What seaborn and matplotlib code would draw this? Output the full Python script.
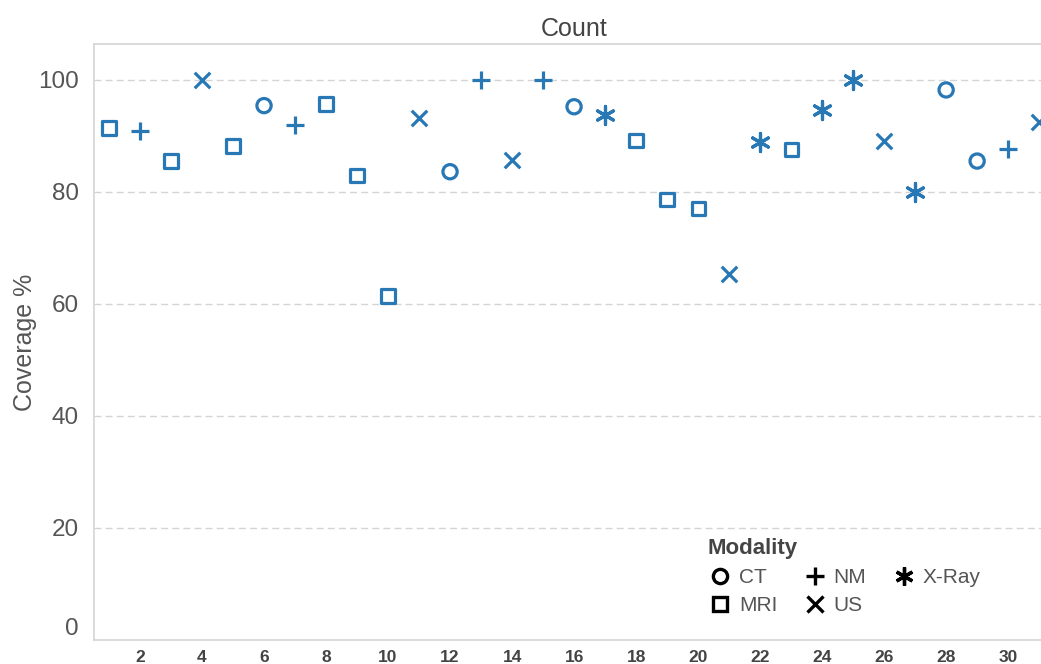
import numpy as np
import pandas as pd
import seaborn as sns
import matplotlib
matplotlib.use("Agg")
from matplotlib import pyplot as plt
from matplotlib.lines import Line2D
from matplotlib.markers import MarkerStyle

# data
counts = list(range(1, 32))
modality = ["MRI", "NM", "MRI", "US", "MRI", "CT", "NM", "MRI", "MRI", "MRI",
            "US", "CT", "NM", "US", "NM", "CT", "X-Ray", "MRI", "MRI", "MRI",
            "US", "X-Ray", "MRI", "X-Ray", "X-Ray", "US", "X-Ray", "CT", "CT", "NM",
            "US"]
coverage = [91.4, 90.9, 85.5, 100, 88.2, 95.4, 92.0, 95.7, 82.9, 61.4,
            93.2, 83.6, 100, 85.7, 100, 95.2, 93.8, 89.1, 78.6, 77.0,
            65.4, 88.9, 87.5, 94.6, 100, 89.1, 80.0, 98.2, 85.5, 87.7,
            92.5]
modalities = ["CT", "MRI", "NM", "US", "X-Ray"]
y_ticks = [0, 20, 40, 60, 80, 100]
x_ticks = list(range(2, 31, 2))

df = pd.DataFrame({"Count": counts, "Modality": modality, "Coverage": coverage})

blue = "#2878b5"
grid_c = "#d4d4d4"
text_c = "#555555"
markers = {
    "CT": (MarkerStyle("o", fillstyle="none"), 105),
    "MRI": (MarkerStyle("s", fillstyle="none"), 90),
    "NM": (MarkerStyle("+"), 170),
    "US": (MarkerStyle("x"), 125),
    "X-Ray": (MarkerStyle((6, 2, 0)), 170),
}

sns.set_style("white")
plt.rcParams["font.family"] = ["Liberation Sans", "DejaVu Sans"]

fig = plt.figure(figsize=(10.41, 6.64), dpi=100)
ax = fig.add_axes([94 / 1041, 1 - 640 / 664, 1 - 94 / 1041, (640 - 44) / 664])

for m in modalities:
    sub = df[df["Modality"] == m]
    mk, s = markers[m]
    sns.scatterplot(data=sub, x="Count", y="Coverage", marker=mk, s=s,
                    color=blue, edgecolor=blue, linewidth=2.3, ax=ax, legend=False,
                    zorder=3)

ax.set_xlim(0.516, 31.06)
ax.set_ylim(0, 106.4)
ax.set_yticks(y_ticks)
ax.set_xticks(x_ticks)
for y in y_ticks[1:]:
    ax.axhline(y, color=grid_c, lw=1, ls=(0, (5, 3)), zorder=1)

ax.set_xlabel("")
ax.set_ylabel("Coverage %", fontsize=18, color=text_c, labelpad=1)
ax.set_title("Count", fontsize=18, color="#444444", pad=6)
ax.title.set_position((0.507, 1))

for sp in ["left", "bottom", "top"]:
    ax.spines[sp].set_color(grid_c)
    ax.spines[sp].set_linewidth(1.2)
ax.spines["right"].set_visible(False)

ax.tick_params(axis="y", length=7, color=grid_c, labelsize=17.5, labelcolor=text_c, pad=4)
ax.tick_params(axis="x", length=3, color=grid_c, labelsize=12.5, labelcolor="#444444", pad=4)
for lab in ax.get_xticklabels():
    lab.set_fontweight("bold")
ax.get_yticklabels()[0].set_verticalalignment("bottom")

handles = []
for m in modalities:
    mk, s = markers[m]
    handles.append(Line2D([], [], linestyle="", marker=mk, color="black",
                          markersize=np.sqrt(s) * 1.0, markeredgewidth=2.4))
leg = ax.legend(handles, modalities, title="Modality", ncol=3, frameon=False,
                loc="upper left", bbox_to_anchor=(693 / 1041, 1 - 523 / 664),
                bbox_transform=fig.transFigure, fontsize=15,
                title_fontproperties={"weight": "bold", "size": 16},
                alignment="left", handletextpad=0.3, columnspacing=1.2,
                labelspacing=0.45, borderpad=0.2, handlelength=1.2)
leg.get_title().set_color("#444444")
for t in leg.get_texts():
    t.set_color(text_c)

fig.savefig("out.png", dpi=100)
